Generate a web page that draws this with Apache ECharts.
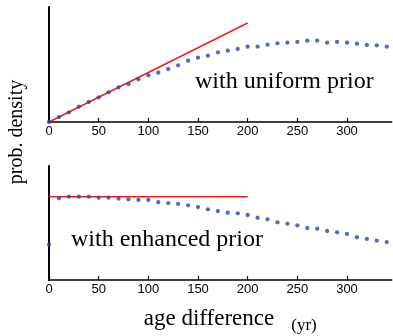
<!DOCTYPE html>
<html>
<head>
<meta charset="utf-8">
<script src="https://cdn.jsdelivr.net/npm/echarts@6/dist/echarts.min.js"></script>
<style>html,body{margin:0;padding:0;background:#fff;}#c{width:393px;height:336px;}</style>
</head>
<body>
<div id="c"></div>
<script>
var ages = [0,10,20,30,40,50,60,70,80,90,100,110,120,130,140,150,160,170,180,190,200,210,220,230,240,250,260,270,280,290,300,310,320,330,340];
var uniformDensity = [0,0.043,0.084,0.133,0.174,0.215,0.258,0.301,0.330,0.371,0.406,0.429,0.461,0.493,0.533,0.559,0.577,0.606,0.620,0.635,0.655,0.655,0.672,0.684,0.690,0.696,0.707,0.707,0.690,0.696,0.690,0.681,0.670,0.667,0.655];
var enhancedDensity = [0.310,0.717,0.731,0.731,0.731,0.722,0.722,0.713,0.708,0.702,0.702,0.682,0.675,0.667,0.655,0.640,0.620,0.605,0.590,0.585,0.570,0.546,0.532,0.506,0.494,0.480,0.456,0.450,0.430,0.418,0.404,0.375,0.360,0.345,0.333];
var uniformPriorLine = [[0,0],[200,0.861]];
var enhancedPriorLine = [[0,0.731],[200,0.731]];
var xTicks = [0,50,100,150,200,250,300];

function pairs(xs, ys){ return xs.map(function(x,i){ return [x, ys[i]]; }); }

var chart = echarts.init(document.getElementById('c'));
function xAxisCfg(idx){
  return {
    gridIndex: idx, type: 'value', min: 0, max: 345,
    axisLine: {show: true, onZero: false, lineStyle: {color: '#000', width: 1.5}},
    axisTick: {show: true, inside: true, length: 4, customValues: xTicks, lineStyle: {color: '#000', width: 1.2}},
    axisLabel: {show: true, customValues: xTicks, margin: 3, color: '#000', fontFamily: 'Liberation Sans, Arial, sans-serif', fontSize: 13},
    splitLine: {show: false}
  };
}
function yAxisCfg(idx){
  return {
    gridIndex: idx, type: 'value', min: 0, max: 1,
    axisLine: {show: true, lineStyle: {color: '#000', width: 2}},
    axisTick: {show: false}, axisLabel: {show: false}, splitLine: {show: false}
  };
}
var dotStyle = {color: '#2848a8'};
var serif = '"Liberation Serif", "Times New Roman", serif';
chart.setOption({
  animation: false,
  backgroundColor: '#fff',
  grid: [
    {left: 49, top: 7, width: 342.7, height: 115},
    {left: 49, top: 166, width: 342.7, height: 114}
  ],
  xAxis: [xAxisCfg(0), xAxisCfg(1)],
  yAxis: [yAxisCfg(0), yAxisCfg(1)],
  series: [
    {type: 'line', xAxisIndex: 0, yAxisIndex: 0, data: uniformPriorLine, showSymbol: false, lineStyle: {color: '#f01c1c', width: 1.5}, z: 2},
    {type: 'scatter', xAxisIndex: 0, yAxisIndex: 0, data: pairs(ages, uniformDensity), symbolSize: 4.3, itemStyle: dotStyle, z: 3},
    {type: 'line', xAxisIndex: 1, yAxisIndex: 1, data: enhancedPriorLine, showSymbol: false, lineStyle: {color: '#f01c1c', width: 1.5}, z: 2},
    {type: 'scatter', xAxisIndex: 1, yAxisIndex: 1, data: pairs(ages, enhancedDensity), symbolSize: 4.3, itemStyle: dotStyle, z: 3}
  ],
  graphic: [
    {type: 'text', left: 195, top: 70, style: {text: 'with uniform prior', font: '24px ' + serif, fill: '#000'}},
    {type: 'text', left: 71, top: 228, style: {text: 'with enhanced prior', font: '24px ' + serif, fill: '#000'}},
    {type: 'text', x: 17, y: 132, rotation: Math.PI/2, style: {text: 'prob. density', font: '20px ' + serif, fill: '#000', align: 'center', verticalAlign: 'middle'}},
    {type: 'text', x: 209, y: 319, style: {text: 'age difference', font: '23px ' + serif, fill: '#000', align: 'center', verticalAlign: 'middle'}},
    {type: 'text', x: 304, y: 326, style: {text: '(yr)', font: '17px ' + serif, fill: '#000', align: 'center', verticalAlign: 'middle'}}
  ]
});
</script>
</body>
</html>
